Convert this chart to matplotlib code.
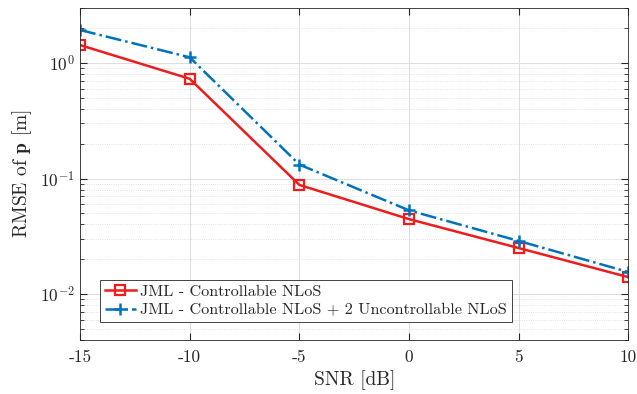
import numpy as np
import matplotlib
matplotlib.use('Agg')
import matplotlib.pyplot as plt

plt.rcParams['font.family'] = ['cmr10', 'DejaVu Serif']
plt.rcParams['mathtext.fontset'] = 'cm'
plt.rcParams['axes.unicode_minus'] = False
plt.rcParams['axes.formatter.use_mathtext'] = True
plt.rcParams['text.color'] = '#262626'
plt.rcParams['xtick.color'] = '#262626'
plt.rcParams['ytick.color'] = '#262626'
plt.rcParams['axes.labelcolor'] = '#262626'

# data
snr = [-15, -10, -5, 0, 5, 10]
rmse_ctrl = [1.43, 0.73, 0.088, 0.0445, 0.025, 0.014]
rmse_ctrl_unctrl = [1.93, 1.12, 0.132, 0.053, 0.0288, 0.0155]
lbl_ctrl = 'JML - Controllable NLoS'
lbl_unctrl = 'JML - Controllable NLoS + 2 Uncontrollable NLoS'

fig = plt.figure(figsize=(6.37, 3.94), dpi=100)
ax = fig.add_axes([0.1256, 0.137, 0.861, 0.843])

ax.semilogy(snr, rmse_ctrl, '-s', color='#ee1c1c', lw=1.8, ms=7.5,
            mfc='none', mew=1.6, label=lbl_ctrl)
ax.semilogy(snr, rmse_ctrl_unctrl, '-.+', color='#0072BD', lw=1.8, ms=9,
            mew=1.8, label=lbl_unctrl)

ax.set_xlim(-15, 10)
ax.set_ylim(4e-3, 3)
ax.set_xticks(snr)
ax.set_xticklabels([str(s) for s in snr])

ax.grid(True, which='major', color='#dcdcdc', lw=0.7)
ax.grid(True, which='minor', axis='y', color='#d8d8d8', lw=0.6, ls=':')
ax.set_axisbelow(True)

ax.tick_params(which='both', direction='in', top=True, right=True, labelsize=12.5)
ax.tick_params(which='major', length=5)
ax.tick_params(which='minor', length=3)
ax.tick_params(axis='x', which='major', pad=7)
ax.tick_params(axis='x', which='minor', bottom=False, top=False)
for s in ax.spines.values():
    s.set_color('#262626')
    s.set_linewidth(0.6)

ax.set_xlabel('SNR [dB]', fontsize=14)
ax.set_ylabel(r'RMSE of $\mathbf{p}$ [m]', fontsize=14)

leg = ax.legend(loc='lower left', bbox_to_anchor=(0.036, 0.054), fontsize=11.7,
                fancybox=False, framealpha=1, edgecolor='#262626',
                handlelength=1.9, borderpad=0.3, labelspacing=0.25,
                handletextpad=0.3, borderaxespad=0)
leg.get_frame().set_linewidth(0.6)

fig.savefig('out.png', dpi=100)
